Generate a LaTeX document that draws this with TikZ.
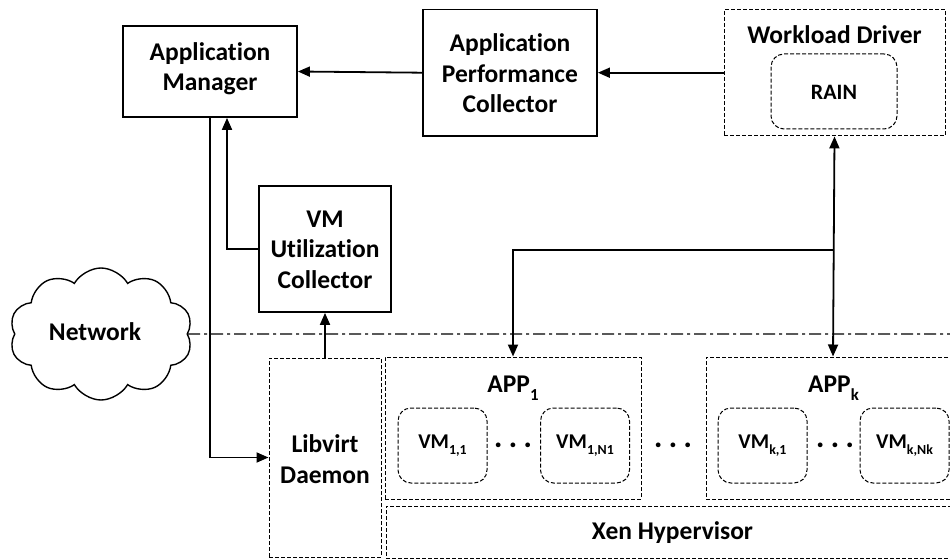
\documentclass[tikz,border=0pt]{standalone}
\usepackage{fontspec}
\setmainfont{Carlito}[Ligatures=CommonOff]
\usetikzlibrary{arrows.meta,shapes.symbols,calc}
\newcommand\lowsub[1]{\raisebox{-0.32em}{\scalebox{0.66}{#1}}}
\begin{document}
\begin{tikzpicture}[x=1pt,y=-1pt,
  every node/.style={font=\fontsize{25.5}{30.5}\selectfont\bfseries, inner sep=0pt},
  sbox/.style={draw, line width=1.8pt},
  dbox/.style={draw, line width=1pt, dash pattern=on 4pt off 2pt},
  vmbox/.style={dbox, rounded corners=13pt, minimum width=89pt, minimum height=75pt},
  small/.style={font=\fontsize{21}{25}\selectfont\bfseries},
  txt/.style={align=center, anchor=base},
  arr/.style={line width=1.8pt, -{Triangle[length=12pt,width=10pt]}},
  darr/.style={line width=1.8pt, {Triangle[length=12pt,width=10pt]}-{Triangle[length=12pt,width=10pt]}},
  line/.style={line width=1.8pt}]
\useasboundingbox (0,0) rectangle (950,559);
% boxes
\node[sbox, minimum width=174pt, minimum height=91pt] (AM) at (210,71.5) {};
\node[txt] (AMt) at (210,90.7) {Application\\Manager};
\node[sbox, minimum width=174pt, minimum height=126.5pt] (APC) at (510,72.7) {};
\node[txt] (APCt) at (510,113) {Application\\Performance\\Collector};
\node[dbox, minimum width=221pt, minimum height=126.5pt] (WD) at (834.5,72.7) {};
\node[txt] (WDt) at (834.5,44) {Workload Driver};
\node[dbox, rounded corners=13pt, minimum width=126pt, minimum height=75pt] (RAIN) at (834,91.5) {};
\node[txt, font=\fontsize{22}{25}\selectfont\bfseries] (RAINt) at (834,99.5) {RAIN};
\node[sbox, minimum width=132pt, minimum height=126pt] (VMUC) at (325,249) {};
\node[txt] (VMUCt) at (325,288) {VM\\Utilization\\Collector};
\node[cloud, draw, line width=1.4pt, cloud puffs=10, cloud puff arc=120, aspect=1.4,
      minimum width=183pt, minimum height=132pt] (NET) at (101,334) {};
\node[txt] (NETt) at (95,340) {Network};
\node[dbox, minimum width=112pt, minimum height=199pt] (LD) at (325,457.5) {};
\node[txt, font=\fontsize{25.5}{31}\selectfont\bfseries] (LDt) at (325,483) {Libvirt\\Daemon};
\node[dbox, minimum width=256pt, minimum height=142pt] (APP1) at (513,428) {};
\node[txt] (APP1t) at (513,392.7) {APP\lowsub{1}};
\node[dbox, minimum width=254pt, minimum height=142pt] (APPk) at (833,428) {};
\node[txt] (APPkt) at (833.5,392.5) {APP\lowsub{k}};
\node[dbox, minimum width=575pt, minimum height=52pt] (XEN) at (673.5,532) {};
\node[txt] (XENt) at (672.5,539) {Xen Hypervisor};
\node[vmbox, small] (VM11) at (442.5,445.5) {VM\lowsub{1,1}};
\node[vmbox, small] (VM1N) at (585,445.5) {VM\lowsub{1,N1}};
\node[vmbox, small] (VMk1) at (762.5,445.5) {VM\lowsub{k,1}};
\node[vmbox, small] (VMkN) at (904.5,445.5) {VM\lowsub{k,Nk}};
\node (D1) at (513,448) {\textperiodcentered\hspace{8pt}\textperiodcentered\hspace{8pt}\textperiodcentered};
\node (D2) at (673,448) {\textperiodcentered\hspace{8pt}\textperiodcentered\hspace{8pt}\textperiodcentered};
\node (D3) at (835,448) {\textperiodcentered\hspace{8pt}\textperiodcentered\hspace{8pt}\textperiodcentered};
% network boundary
\coordinate (E) at (950,334);
\draw[line width=1.3pt, dash pattern=on 12pt off 4pt on 3pt off 4pt] (NET.east) -- (E);
% connectors
\draw[arr] (APC.west) -- (AM.east);
\draw[arr] (WD.west) -- (APC.east);
\draw[arr] (AM.south) |- (LD.west);
\draw[arr] (VMUC.west) -| ($(AM.south)+(17,0)$);
\draw[arr] (LD.north) -- (VMUC.south);
\coordinate (J) at (834,250);
\draw[darr] (WD.south) -- (APPk.north);
\draw[arr] (J) -| (APP1.north);
\end{tikzpicture}
\end{document}
